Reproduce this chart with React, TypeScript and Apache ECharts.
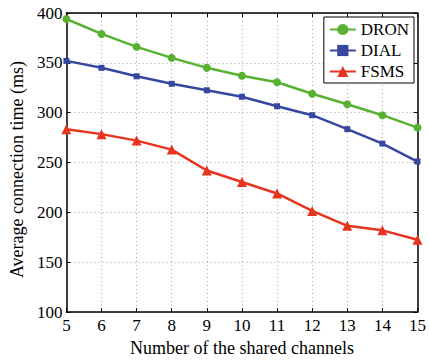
import React, { useEffect, useRef } from "react";
import * as echarts from "echarts";

const channels = [5, 6, 7, 8, 9, 10, 11, 12, 13, 14, 15];
const dron = [394, 379, 366, 355, 345, 337, 330.5, 319, 308.5, 297.5, 285];
const dial = [352, 345, 336.5, 329, 322.5, 316, 306.5, 297.5, 283.5, 269, 251];
const fsms = [283.5, 278.5, 272, 263, 242, 230.5, 219, 201.5, 186.5, 182, 172.5];

const FONT = "'Liberation Serif', 'Times New Roman', serif";

export default function App() {
  const ref = useRef<HTMLDivElement>(null);
  useEffect(() => {
    const chart = echarts.init(ref.current!, null, { renderer: "svg" });
    const axisLine = { show: true, onZero: false, lineStyle: { color: "#000", width: 1.5 } };
    const tick = { show: true, inside: true, length: 4, lineStyle: { color: "#000" } };
    const label = { color: "#000", fontFamily: FONT, fontSize: 17 };
    const mk = (name: string, data: number[], color: string, symbol: string, size: number) => ({
      name,
      type: "line",
      data: channels.map((c, i) => [c, data[i]]),
      symbol,
      symbolSize: size,
      lineStyle: { color, width: 2.5 },
      itemStyle: { color },
      z: 3,
    });
    chart.setOption({
      animation: false,
      grid: { left: 61, right: 8, top: 13, bottom: 42, containLabel: false },
      legend: {
        orient: "vertical",
        right: 15,
        top: 17,
        backgroundColor: "#fff",
        borderColor: "#000",
        borderWidth: 1,
        padding: [4, 5, 3, 5],
        itemWidth: 26,
        itemHeight: 14,
        itemGap: 4,
        textStyle: { color: "#000", fontFamily: FONT, fontSize: 17 },
        data: ["DRON", "DIAL", "FSMS"],
      },
      xAxis: [
        {
          type: "value",
          min: 5,
          max: 15,
          interval: 1,
          name: "Number of the shared channels",
          nameLocation: "middle",
          nameGap: 20,
          nameTextStyle: { color: "#000", fontFamily: FONT, fontSize: 18 },
          axisLine,
          axisTick: tick,
          axisLabel: { ...label, margin: 5 },
          splitLine: { show: true, lineStyle: { color: "#aaa", type: [1, 3], width: 1 } },
        },
        {
          type: "value",
          position: "top",
          min: 5,
          max: 15,
          interval: 1,
          axisLine,
          axisTick: tick,
          axisLabel: { show: false },
          splitLine: { show: false },
        },
      ],
      yAxis: [
        {
          type: "value",
          min: 100,
          max: 400,
          interval: 50,
          name: "Average connection time (ms)",
          nameLocation: "middle",
          nameGap: 34,
          nameTextStyle: { color: "#000", fontFamily: FONT, fontSize: 18, padding: [0, 14, 0, 0] },
          axisLine,
          axisTick: tick,
          axisLabel: { ...label, margin: 4 },
          splitLine: { show: true, lineStyle: { color: "#aaa", type: [1, 3], width: 1 } },
        },
        {
          type: "value",
          position: "right",
          min: 100,
          max: 400,
          interval: 50,
          axisLine,
          axisTick: tick,
          axisLabel: { show: false },
          splitLine: { show: false },
        },
      ],
      series: [
        mk("DRON", dron, "#58b130", "circle", 8),
        mk("DIAL", dial, "#37479e", "rect", 6),
        mk("FSMS", fsms, "#e6341f", "triangle", 10),
      ],
    });
    return () => chart.dispose();
  }, []);
  return (
    <div
      ref={ref}
      style={{ position: "fixed", left: 0, top: 0, width: 429, height: 362, background: "#fff" }}
    />
  );
}
